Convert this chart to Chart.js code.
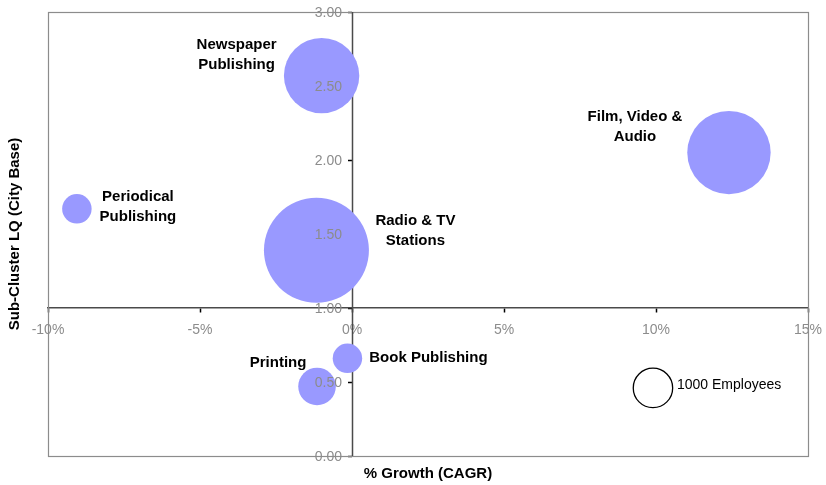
<!DOCTYPE html>
<html>
<head>
<meta charset="utf-8">
<script src="https://cdn.jsdelivr.net/npm/chart.js@4.4.1/dist/chart.umd.min.js"></script>
<style>
  html, body { margin: 0; padding: 0; background: #ffffff; }
  #wrap { width: 826px; height: 485px; }
</style>
</head>
<body>
<div id="wrap"><canvas id="chart" width="826" height="485"></canvas></div>
<script>
// Media sub-clusters: growth (CAGR, %) vs. location quotient, bubble area = employment
const subClusters = ['Newspaper Publishing', 'Film, Video & Audio', 'Periodical Publishing',
                     'Radio & TV Stations', 'Book Publishing', 'Printing'];
const labelLines = [['Newspaper', 'Publishing'], ['Film, Video &', 'Audio'], ['Periodical', 'Publishing'],
                    ['Radio & TV', 'Stations'], ['Book Publishing'], ['Printing']];
const growthPct = [-1.0, 12.4, -9.05, -1.17, -0.15, -1.15];
const cityLQ = [2.57, 2.05, 1.67, 1.39, 0.66, 0.47];
const employees = [3660, 4480, 560, 7100, 560, 910];

// Size key
const keyEmployees = 1000;
const keyGrowth = 9.9;
const keyLQ = 0.46;
const keyLabel = '1000 Employees';

// Axes
const xRange = [-10, 15];
const xStep = 5;
const yRange = [0, 3];
const yStep = 0.5;
const xTitle = '% Growth (CAGR)';
const yTitle = 'Sub-Cluster LQ (City Base)';

const FONT = "'Liberation Sans', Arial, Helvetica, sans-serif";
const AXIS_COLOR = '#4a4a4a';
const KEY_RADIUS = 19.7;               // pixel radius of the 1000-employee bubble
const radiusFor = n => KEY_RADIUS * Math.sqrt(n / keyEmployees);

// label anchor offsets from each bubble centre (px)
const labelOffsets = [
  { dx: -85, dy: -21 }, { dx: -94, dy: -26 }, { dx: 61, dy: -2 },
  { dx: 99, dy: -19 }, { dx: 81, dy: 0 }, { dx: -39, dy: -24 }
];

// crossing axes should not reserve any room around the plot
const noPadding = scale => {
  scale.paddingLeft = scale.paddingRight = scale.paddingTop = scale.paddingBottom = 0;
};

const frameAndAxisLine = {
  id: 'frameAndAxisLine',
  beforeDatasetsDraw(chart) {
    const { ctx, chartArea: a, scales } = chart;
    ctx.save();
    ctx.strokeStyle = '#8c8c8c';
    ctx.lineWidth = 1.2;
    ctx.strokeRect(Math.round(a.left) + 0.5, Math.round(a.top) + 0.5,
                   Math.round(a.right - a.left), Math.round(a.bottom - a.top));
    const x0 = Math.round(scales.x.getPixelForValue(0)) + 0.5;
    ctx.strokeStyle = AXIS_COLOR;
    ctx.lineWidth = 1.5;
    ctx.beginPath();
    ctx.moveTo(x0, a.top);
    ctx.lineTo(x0, a.bottom);
    ctx.stroke();
    ctx.restore();
  }
};

const bubbleText = {
  id: 'bubbleText',
  afterDatasetsDraw(chart) {
    const { ctx, chartArea: a, scales } = chart;
    ctx.save();

    // y tick labels, right-aligned just left of the crossing axis (drawn over bubbles)
    const yScale = scales.y;
    const axisX = scales.x.getPixelForValue(0);
    ctx.font = '14px ' + FONT;
    ctx.fillStyle = '#8c8c8c';
    ctx.textAlign = 'right';
    ctx.textBaseline = 'middle';
    yScale.ticks.forEach(t => {
      ctx.fillText(t.value.toFixed(2), axisX - 10, yScale.getPixelForValue(t.value) + 1);
    });

    ctx.fillStyle = '#000';
    ctx.textAlign = 'center';
    ctx.font = 'bold 15px ' + FONT;
    const pts = chart.getDatasetMeta(0).data;
    pts.forEach((el, i) => {
      const lines = labelLines[i];
      const off = labelOffsets[i];
      const lh = 20;
      const y0 = el.y + off.dy - (lines.length - 1) * lh / 2;
      lines.forEach((t, k) => ctx.fillText(t, el.x + off.dx, y0 + k * lh));
    });
    // size key label
    const key = chart.getDatasetMeta(1).data[0];
    ctx.font = '14px ' + FONT;
    ctx.textAlign = 'left';
    ctx.fillText(keyLabel, key.x + 24, key.y - 3);

    // axis titles
    ctx.font = 'bold 15px ' + FONT;
    ctx.textAlign = 'center';
    ctx.fillText(xTitle, 428, 474);
    ctx.translate(15, (a.top + a.bottom) / 2);
    ctx.rotate(-Math.PI / 2);
    ctx.fillText(yTitle, 0, 0);
    ctx.restore();
  }
};

new Chart(document.getElementById('chart'), {
  type: 'bubble',
  data: {
    datasets: [
      {
        label: 'Sub-clusters',
        data: subClusters.map((name, i) => ({ x: growthPct[i], y: cityLQ[i], r: radiusFor(employees[i]) })),
        backgroundColor: '#9999ff',
        borderColor: '#9999ff',
        borderWidth: 0
      },
      {
        label: keyLabel,
        data: [{ x: keyGrowth, y: keyLQ, r: radiusFor(keyEmployees) }],
        backgroundColor: 'rgba(255,255,255,0)',
        borderColor: '#000000',
        borderWidth: 1.3
      }
    ]
  },
  options: {
    responsive: false,
    devicePixelRatio: 1,
    animation: false,
    layout: { autoPadding: false, padding: { left: 48, right: 18, top: 12, bottom: 29 } },
    plugins: { legend: { display: false }, tooltip: { enabled: false } },
    scales: {
      x: {
        type: 'linear',
        min: xRange[0], max: xRange[1],
        position: { y: 1 },
        afterFit: noPadding,
        border: { display: true, color: AXIS_COLOR, width: 1.5 },
        grid: { drawOnChartArea: false, drawTicks: true, tickLength: 4, tickColor: '#000', tickWidth: 1.5 },
        ticks: {
          stepSize: xStep,
          color: '#8c8c8c',
          font: { family: FONT, size: 14 },
          padding: 10,
          maxRotation: 0,
          autoSkip: false,
          callback: v => v + '%'
        }
      },
      y: {
        type: 'linear',
        min: yRange[0], max: yRange[1],
        position: { x: 0 },
        afterFit: noPadding,
        z: 1,
        border: { display: false },
        grid: { drawOnChartArea: false, drawTicks: true, tickLength: 4, tickColor: '#000', tickWidth: 1.5 },
        ticks: {
          display: false,
          stepSize: yStep,
          autoSkip: false
        }
      }
    }
  },
  plugins: [frameAndAxisLine, bubbleText]
});
</script>
</body>
</html>
